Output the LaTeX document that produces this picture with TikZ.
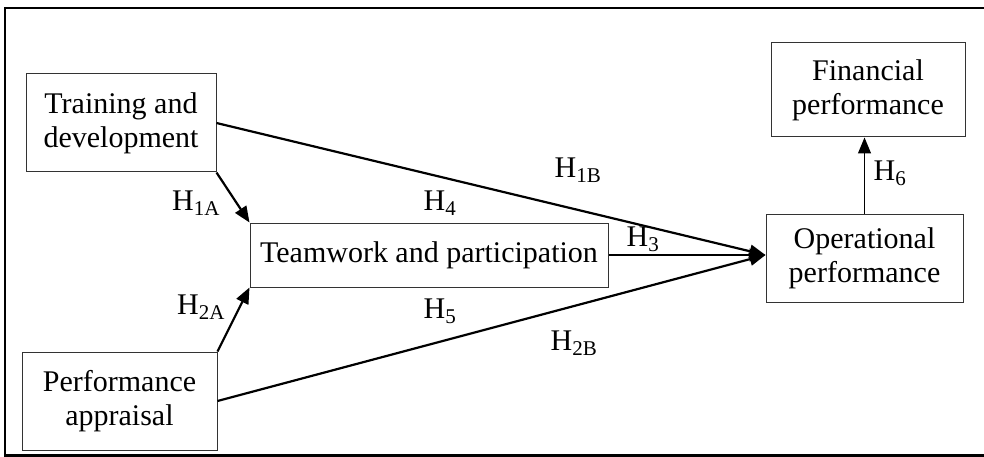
\documentclass[tikz,border=0pt]{standalone}
\usepackage{fontspec}
\setmainfont{Liberation Serif}
\usetikzlibrary{arrows.meta}
\tikzset{
  box/.style={draw=black!80, line width=1pt, rectangle, inner sep=0pt, align=center,
    font=\fontsize{30}{34}\selectfont},
  lbl/.style={inner sep=0pt, font=\fontsize{30}{34}\selectfont},
  thick arrow/.style={line width=2.2pt, -{Triangle[length=16pt,width=13pt]}},
  thin arrow/.style={line width=1.2pt, -{Triangle[length=16pt,width=13pt]}},
  frame/.style={line width=2.8pt}
}
\begin{document}
\begin{tikzpicture}[x=1pt,y=-1pt]
\useasboundingbox (0,0) rectangle (984,457);
\draw[frame] (990,8) -- (5,8) -- (5,455.5) -- (990,455.5);

\node[box, minimum width=190pt, minimum height=98pt] (T) at (121,123) {Training and\\development};
\node[box, minimum width=195pt, minimum height=98pt] (P) at (119.5,401) {Performance\\appraisal};
\node[box, minimum width=358pt, minimum height=64pt] (W) at (429,255) {Teamwork and participation};
\node[box, minimum width=194pt, minimum height=94pt] (F) at (868,90) {Financial\\performance};
\node[box, minimum width=197pt, minimum height=88pt] (O) at (864.5,258) {Operational\\performance};
\coordinate (Oin) at (O.west |- W.east);

\draw[thick arrow] (T.south east) -- (W.north west);
\draw[thick arrow] (P.north east) -- (W.south west);
\draw[thick arrow] (T.east) -- (Oin);
\draw[thick arrow] (P.east) -- (Oin);
\draw[thin arrow] (W.east) -- (Oin);
\draw[thin arrow] (O.north) -- (O.north |- F.south);

\node[lbl] (h1a) at (196,203) {H\textsubscript{1A}};
\node[lbl] (h2a) at (201,307) {H\textsubscript{2A}};
\node[lbl] (h4) at (440,203) {H\textsubscript{4}};
\node[lbl] (h1b) at (578,170) {H\textsubscript{1B}};
\node[lbl] (h3) at (643,239) {H\textsubscript{3}};
\node[lbl] (h5) at (440,311) {H\textsubscript{5}};
\node[lbl] (h2b) at (574,343) {H\textsubscript{2B}};
\node[lbl] (h6) at (890,173) {H\textsubscript{6}};
\end{tikzpicture}
\end{document}
